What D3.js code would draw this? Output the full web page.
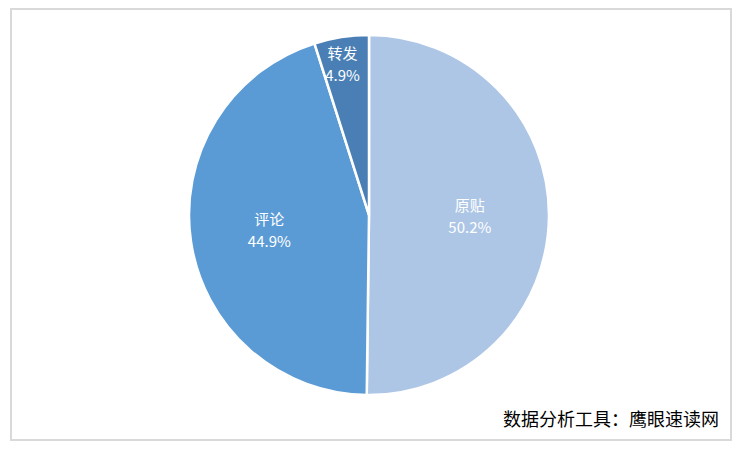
<!DOCTYPE html>
<html><head><meta charset="utf-8">
<script src="https://cdn.jsdelivr.net/npm/d3@7"></script>
<style>body{margin:0;background:#fff}</style>
</head><body>
<svg id="c" width="742" height="451"></svg>
<script>
const categories = ["原贴", "评论", "转发"];
const values = [50.2, 44.9, 4.9];
const colors = ["#adc6e6", "#5b9bd5", "#4a7fb6"];
const footer = "数据分析工具：鹰眼速读网";

const svg = d3.select("#c");
svg.append("rect").attr("x", 11).attr("y", 9).attr("width", 720).attr("height", 431)
  .attr("fill", "#fff").attr("stroke", "#d9d9d9").attr("stroke-width", 2);

const cx = 369, cy = 215, r = 180;
const data = categories.map((c, i) => ({name: c, value: values[i], color: colors[i]}));
const pie = d3.pie().sort(null).value(d => d.value);
const arc = d3.arc().innerRadius(0).outerRadius(r);
const g = svg.append("g").attr("transform", `translate(${cx},${cy})`);
const arcs = pie(data);
g.selectAll("path").data(arcs).join("path")
  .attr("d", arc).attr("fill", d => d.data.color)
  .attr("stroke", "#fff").attr("stroke-width", 2.5);

const font = "'Noto Sans CJK SC', 'Liberation Sans', sans-serif";
arcs.forEach(a => {
  const lr = r * (a.data.value < 10 ? 0.85 : 0.56);
  const ang = (a.startAngle + a.endAngle) / 2;
  const x = Math.sin(ang) * lr - (a.data.value < 10 ? 3 : 0), y = -Math.cos(ang) * lr;
  g.append("text").attr("x", x).attr("y", y - 5)
    .attr("text-anchor", "middle").attr("fill", "#fff")
    .attr("font-family", font).attr("font-size", 15).text(a.data.name);
  g.append("text").attr("x", x).attr("y", y + 17)
    .attr("text-anchor", "middle").attr("fill", "#fff")
    .attr("font-family", font).attr("font-size", 15).text(a.data.value.toFixed(1) + "%");
});

svg.append("text").attr("x", 719).attr("y", 426).attr("text-anchor", "end")
  .attr("font-family", font).attr("font-size", 18).attr("fill", "#000").text(footer);
</script>
</body></html>
